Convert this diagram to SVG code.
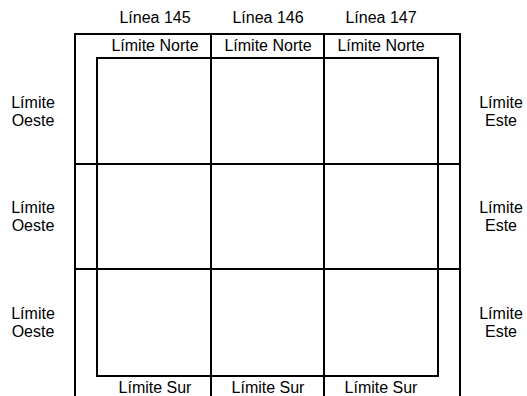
<svg xmlns="http://www.w3.org/2000/svg" width="527" height="396" viewBox="0 0 527 396">
<style>
.l{stroke:#000;stroke-width:2;fill:none}
text{font-family:"Liberation Sans",Arial,sans-serif;font-size:16px;fill:#000;text-anchor:middle}
</style>
<rect width="527" height="396" fill="#fff"/>
<g id="connectors">
<path class="l" d="M75 397V34H460V397"/>
<path class="l" d="M211 34V397M324 34V397"/>
<path class="l" d="M75 164H460M75 269H460"/>
<rect class="l" x="97" y="58" width="341" height="318"/>
</g>
<g id="lineas">
<text x="155" y="23">Línea 145</text>
<text x="268" y="23">Línea 146</text>
<text x="381" y="23">Línea 147</text>
</g>
<g id="norte">
<text x="155" y="51">Límite Norte</text>
<text x="268" y="51">Límite Norte</text>
<text x="381" y="51">Límite Norte</text>
</g>
<g id="sur">
<text x="155" y="393">Límite Sur</text>
<text x="268" y="393">Límite Sur</text>
<text x="381" y="393">Límite Sur</text>
</g>
<g id="oeste">
<text x="33" y="108">Límite</text><text x="33" y="126">Oeste</text>
<text x="33" y="213">Límite</text><text x="33" y="231">Oeste</text>
<text x="33" y="319">Límite</text><text x="33" y="337">Oeste</text>
</g>
<g id="este">
<text x="501" y="108">Límite</text><text x="501" y="126">Este</text>
<text x="501" y="213">Límite</text><text x="501" y="231">Este</text>
<text x="501" y="319">Límite</text><text x="501" y="337">Este</text>
</g>
</svg>
